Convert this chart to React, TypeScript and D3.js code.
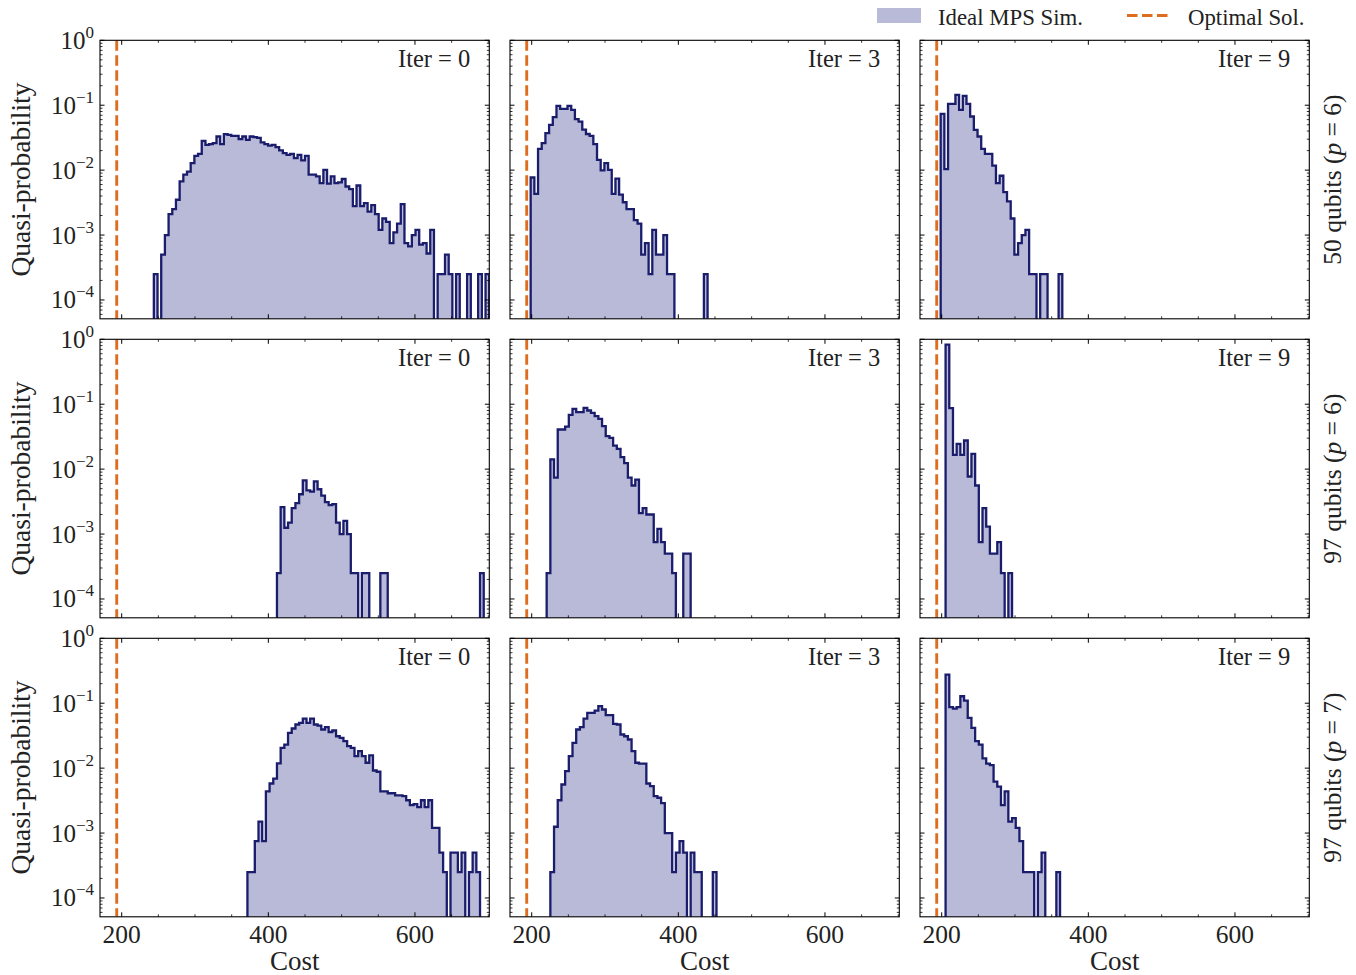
import React from 'react';
import * as d3 from 'd3';

// axis ranges shared by every panel
const costDomain: [number, number] = [170.4, 701.4];
const probDomain: [number, number] = [Math.pow(10, -4.29), 1];
const optimalCost = 193.2;

const iterLabels = ['Iter = 0', 'Iter = 3', 'Iter = 9'];
const rowQubits = ['50', '97', '97'];
const rowDepth = ['6', '6', '7'];
const xTicksMajor = [200, 400, 600];
const xTicksMinor = [250, 300, 350, 450, 500, 550, 650, 700];
const yTicksMajor = [1, 1e-1, 1e-2, 1e-3, 1e-4];
const yTickExp = ['0', '\u22121', '\u22122', '\u22123', '\u22124'];

// histogram bin grid of each row (left edge of bin 0, bin width)
const rowBinStart = [198.6, 205.3, 205.3];
const rowBinWidth = [5.027, 5.036, 5.036];

// 50 qubits (p = 6)
const q50p6Iter0First = 9;
const q50p6Iter0 = [
  2.5e-4, 0, 5e-4, 1e-3, 2.1e-3, 2.5e-3, 3.5e-3, 6.7e-3, 8.5e-3, 9.5e-3,
  1.28e-2, 1.66e-2, 1.78e-2, 2.83e-2, 2.45e-2, 2.51e-2, 2.6e-2, 3.3e-2, 2.51e-2, 3.58e-2,
  3.5e-2, 3.37e-2, 3.37e-2, 3.0e-2, 3.3e-2, 2.93e-2, 3.3e-2, 3.22e-2, 3.14e-2, 2.67e-2,
  2.51e-2, 2.39e-2, 2.45e-2, 2.26e-2, 2.01e-2, 1.83e-2, 1.72e-2, 1.78e-2, 1.53e-2, 1.72e-2,
  1.41e-2, 1.66e-2, 8.5e-3, 8.5e-3, 8.0e-3, 6.3e-3, 1.01e-2, 6.2e-3, 8.0e-3, 6.3e-3,
  6.5e-3, 7.3e-3, 5.6e-3, 5.1e-3, 2.8e-3, 5.8e-3, 2.8e-3, 3.1e-3, 2.3e-3, 2.9e-3,
  2.1e-3, 1.2e-3, 1.8e-3, 1.6e-3, 7.5e-4, 1.1e-3, 1.5e-3, 3.0e-3, 7.5e-4, 6.7e-4,
  1.0e-3, 1.2e-3, 7.1e-4, 7.5e-4, 5.2e-4, 1.2e-3, 0, 2.5e-4, 2.5e-4, 5e-4,
  2.5e-4, 0, 2.5e-4, 0, 0, 2.5e-4, 0, 0, 2.5e-4, 0, 2.5e-4,
];
const q50p6Iter3First = 0;
const q50p6Iter3 = [
  7.7e-3, 4.3e-3, 2.13e-2, 2.6e-2, 3.71e-2, 4.98e-2, 6.54e-2, 9.77e-2, 8.8e-2, 8.8e-2,
  9.8e-2, 8.5e-2, 6.1e-2, 5.6e-2, 4.2e-2, 3.6e-2, 3.37e-2, 2.51e-2, 1.44e-2, 9.9e-3,
  1.28e-2, 1.01e-2, 4.3e-3, 7.4e-3, 4.2e-3, 3.2e-3, 2.5e-3, 2.5e-3, 1.7e-3, 1.5e-3,
  5e-4, 7.5e-4, 2.5e-4, 1.2e-3, 5e-4, 5e-4, 1e-3, 2.5e-4, 2.5e-4,
  0, 0, 0, 0, 0, 0, 0, 0, 2.5e-4,
];
const q50p6Iter9First = 0;
const q50p6Iter9 = [
  7.36e-2, 1.04e-2, 0.105, 0.105, 0.144, 8.48e-2, 0.139, 0.105, 6.7e-2, 4.17e-2,
  3.3e-2, 2.13e-2, 1.78e-2, 1.78e-2, 1.17e-2, 6.3e-3, 8.2e-3, 4.6e-3, 3.3e-3, 1.8e-3,
  5e-4, 7.5e-4, 1e-3, 1.2e-3, 2.5e-4, 2.5e-4, 0, 2.5e-4, 2.5e-4, 0, 0, 0, 2.5e-4,
];

// 97 qubits (p = 6)
const q97p6Iter0First = 41;
const q97p6Iter0 = [
  2.5e-4, 2.6e-3, 1.25e-3, 1.5e-3, 2.5e-3, 3.0e-3, 4.1e-3, 6.7e-3, 4.7e-3, 4.5e-3,
  6.5e-3, 4.9e-3, 3.9e-3, 3.1e-3, 2.8e-3, 2.9e-3, 1.5e-3, 1.0e-3, 1.6e-3, 1.0e-3,
  2.5e-4, 2.5e-4, 0, 2.5e-4, 2.5e-4, 0, 0, 0, 2.5e-4, 2.5e-4,
  0, 0, 0, 0, 0, 0, 0, 0, 0, 0, 0, 0, 0, 0, 0, 0, 0, 0, 0, 0, 0, 0, 0, 0, 0,
  2.5e-4,
];
const q97p6Iter3First = 3;
const q97p6Iter3 = [
  2.5e-4, 1.41e-2, 7.4e-3, 4.08e-2, 4.08e-2, 4.53e-2, 6.86e-2, 8.48e-2, 7.53e-2, 7.53e-2,
  8.79e-2, 8.0e-2, 7.36e-2, 6.54e-2, 5.95e-2, 4.59e-2, 3.22e-2, 3.03e-2, 2.31e-2, 2.05e-2,
  1.53e-2, 1.24e-2, 7.4e-3, 5.6e-3, 6.9e-3, 2.1e-3, 2.5e-3, 2.0e-3, 2.0e-3, 7.5e-4,
  1.2e-3, 7.5e-4, 5e-4, 5e-4, 2.5e-4, 0, 0, 5e-4, 5e-4,
];
const q97p6Iter9First = 0;
const q97p6Iter9 = [
  0.828, 8.68e-2, 1.66e-2, 2.45e-2, 1.66e-2, 2.76e-2, 7.7e-3, 1.72e-2, 5.6e-3, 7.5e-4,
  2.5e-3, 1.3e-3, 5e-4, 5e-4, 7.5e-4, 2.5e-4, 0, 2.5e-4,
];

// 97 qubits (p = 7)
const q97p7Iter0First = 33;
const q97p7Iter0 = [
  2.5e-4, 2.5e-4, 7.5e-4, 1.5e-3, 7.5e-4, 4.4e-3, 5.8e-3, 6.9e-3, 1.18e-2, 2.05e-2,
  2.31e-2, 3.5e-2, 4.08e-2, 4.7e-2, 4.98e-2, 5.81e-2, 4.98e-2, 5.81e-2, 4.7e-2, 4.53e-2,
  3.94e-2, 4.27e-2, 3.6e-2, 3.8e-2, 3.1e-2, 2.93e-2, 2.6e-2, 2.18e-2, 2.05e-2, 1.53e-2,
  1.83e-2, 1.53e-2, 1.21e-2, 1.57e-2, 9.2e-3, 8.8e-3, 4.4e-3, 4.4e-3, 4.1e-3, 4.1e-3,
  3.8e-3, 3.8e-3, 3.7e-3, 3.2e-3, 2.7e-3, 2.8e-3, 2.5e-3, 3.2e-3, 2.5e-3, 3.2e-3,
  1.2e-3, 1.2e-3, 5e-4, 2.5e-4, 0, 5e-4, 5e-4, 2.5e-4, 5e-4, 0, 2.5e-4, 5e-4, 2.5e-4,
];
const q97p7Iter3First = 4;
const q97p7Iter3 = [
  2.5e-4, 1.25e-3, 3.2e-3, 5.6e-3, 9.0e-3, 1.53e-2, 2.45e-2, 3.94e-2, 4.27e-2, 5.81e-2,
  7.1e-2, 7.1e-2, 7.7e-2, 9.0e-2, 8.0e-2, 6.54e-2, 6.54e-2, 4.81e-2, 4.7e-2, 3.3e-2,
  3.1e-2, 2.76e-2, 1.83e-2, 1.21e-2, 1.17e-2, 1.17e-2, 5.8e-3, 5.3e-3, 3.7e-3, 3.5e-3,
  2.9e-3, 1e-3, 1e-3, 2.5e-4, 5e-4, 7.5e-4, 5e-4, 0, 5e-4, 2.5e-4, 2.5e-4, 0, 0, 0, 2.5e-4,
];
const q97p7Iter9First = 0;
const q97p7Iter9 = [
  0.276, 8.68e-2, 8.28e-2, 8.68e-2, 0.128, 0.11, 5.95e-2, 4.17e-2, 2.6e-2, 2.31e-2,
  1.41e-2, 1.17e-2, 1.11e-2, 6.2e-3, 5.2e-3, 2.7e-3, 4.4e-3, 1.5e-3, 1.7e-3, 1.2e-3,
  7.5e-4, 2.5e-4, 2.5e-4, 2.5e-4, 0, 2.5e-4, 5e-4, 0, 0, 0, 2.5e-4,
];

const grid = [
  [
    { first: q50p6Iter0First, values: q50p6Iter0 },
    { first: q50p6Iter3First, values: q50p6Iter3 },
    { first: q50p6Iter9First, values: q50p6Iter9 },
  ],
  [
    { first: q97p6Iter0First, values: q97p6Iter0 },
    { first: q97p6Iter3First, values: q97p6Iter3 },
    { first: q97p6Iter9First, values: q97p6Iter9 },
  ],
  [
    { first: q97p7Iter0First, values: q97p7Iter0 },
    { first: q97p7Iter3First, values: q97p7Iter3 },
    { first: q97p7Iter9First, values: q97p7Iter9 },
  ],
];

const FONT = '"Liberation Serif", "Times New Roman", serif';
const FILL = '#b9bad7';
const EDGE = '#1a1c6c';
const ORANGE = '#df6d1f';

const W = 1356;
const H = 975;
const PW = 389.3;
const PH = 278.5;
const COL_LEFT = [100, 510, 920];
const ROW_TOP = [40.3, 339.3, 638.3];
const MAJOR = 4.5;
const MINOR = 2.5;

const x = d3.scaleLinear().domain(costDomain).range([0, PW]);
const y = d3.scaleLog().domain(probDomain).range([PH, 0]);

const yMinor: number[] = [];
for (let e = -5; e <= -1; e++) {
  for (let m = 2; m <= 9; m++) {
    const v = m * Math.pow(10, e);
    if (v >= probDomain[0] && v <= probDomain[1]) yMinor.push(v);
  }
}

function histPoints(row: number, first: number, values: number[]): [number, number][] {
  const floor = PH + 6;
  const edge = (i: number) => x(rowBinStart[row] + i * rowBinWidth[row]);
  const pts: [number, number][] = [[edge(first), floor]];
  values.forEach((v, i) => pts.push([edge(first + i), v > 0 ? y(v) : floor]));
  const last = values[values.length - 1];
  pts.push([edge(first + values.length), last > 0 ? y(last) : floor]);
  pts.push([edge(first + values.length), floor]);
  return pts;
}

const stepLine = d3.line().curve(d3.curveStepAfter);

function Panel({ row, col }: { row: number; col: number }) {
  const h = grid[row][col];
  const pts = histPoints(row, h.first, h.values);
  const d = stepLine(pts) || '';
  const clipId = `clip-${row}-${col}`;
  const xo = x(optimalCost);
  return (
    <g transform={`translate(${COL_LEFT[col]},${ROW_TOP[row]})`}>
      <defs>
        <clipPath id={clipId}>
          <rect x={0} y={0} width={PW} height={PH} />
        </clipPath>
      </defs>
      <g clipPath={`url(#${clipId})`}>
        <path d={d + 'Z'} fill={FILL} stroke="none" />
        <path d={d} fill="none" stroke={EDGE} strokeWidth={2.3} strokeLinejoin="miter" />
        <line x1={xo} x2={xo} y1={0} y2={PH} stroke={ORANGE} strokeWidth={2.9} strokeDasharray="10.5 4.5" />
      </g>
      {xTicksMajor.map((t) => (
        <g key={`xM${t}`} stroke="#000" strokeWidth={1}>
          <line x1={x(t)} x2={x(t)} y1={PH} y2={PH - MAJOR} />
          <line x1={x(t)} x2={x(t)} y1={0} y2={MAJOR} />
        </g>
      ))}
      {xTicksMinor.filter((t) => x(t) < PW - 0.5).map((t) => (
        <g key={`xm${t}`} stroke="#000" strokeWidth={0.8}>
          <line x1={x(t)} x2={x(t)} y1={PH} y2={PH - MINOR} />
          <line x1={x(t)} x2={x(t)} y1={0} y2={MINOR} />
        </g>
      ))}
      {yTicksMajor.map((t) => (
        <g key={`yM${t}`} stroke="#000" strokeWidth={1}>
          <line x1={0} x2={MAJOR} y1={y(t)} y2={y(t)} />
          <line x1={PW} x2={PW - MAJOR} y1={y(t)} y2={y(t)} />
        </g>
      ))}
      {yMinor.map((t) => (
        <g key={`ym${t}`} stroke="#000" strokeWidth={0.8}>
          <line x1={0} x2={MINOR} y1={y(t)} y2={y(t)} />
          <line x1={PW} x2={PW - MINOR} y1={y(t)} y2={y(t)} />
        </g>
      ))}
      <rect x={0} y={0} width={PW} height={PH} fill="none" stroke="#000" strokeWidth={1.1} />
      <text x={PW - 19} y={27} textAnchor="end" fontSize={24.5} fill="#222">
        {iterLabels[col]}
      </text>
      {col === 0 &&
        yTicksMajor.map((t, i) => (
          <text key={`yl${t}`} x={-6} y={y(t) + 8.5} textAnchor="end" fontSize={25} fill="#222">
            10
            <tspan dy={-11} fontSize={17}>{yTickExp[i]}</tspan>
          </text>
        ))}
      {row === 2 &&
        xTicksMajor.map((t) => (
          <text key={`xl${t}`} x={x(t)} y={PH + 26.5} textAnchor="middle" fontSize={25.5} fill="#222">
            {t}
          </text>
        ))}
      {row === 2 && (
        <text x={PW / 2} y={PH + 53.5} textAnchor="middle" fontSize={27} fill="#222">
          Cost
        </text>
      )}
      {col === 0 && (
        <text
          transform={`translate(${-70},${PH / 2}) rotate(-90)`}
          textAnchor="middle"
          fontSize={27.5}
          fill="#222"
        >
          Quasi-probability
        </text>
      )}
      {col === 2 && (
        <text
          transform={`translate(${PW + 32},${PH / 2}) rotate(-90)`}
          textAnchor="middle"
          fontSize={25.5}
          fill="#222"
        >
          {rowQubits[row]} qubits (<tspan fontStyle="italic">p</tspan> = {rowDepth[row]})
        </text>
      )}
    </g>
  );
}

export default function App() {
  return (
    <div>
      <style>{'body{margin:0;}'}</style>
      <svg width={W} height={H} viewBox={`0 0 ${W} ${H}`} fontFamily={FONT} style={{ display: 'block', background: '#fff' }}>
        <rect x={0} y={0} width={W} height={H} fill="#fff" />
        {[0, 1, 2].map((r) => [0, 1, 2].map((c) => <Panel key={`${r}-${c}`} row={r} col={c} />))}
        <g>
          <rect x={877} y={8} width={44} height={15} fill={FILL} />
          <text x={938} y={24.5} fontSize={22.8} fill="#222">Ideal MPS Sim.</text>
          <line x1={1127} x2={1171} y1={15.5} y2={15.5} stroke={ORANGE} strokeWidth={2.9} strokeDasharray="10.5 4.5" />
          <text x={1188} y={24.5} fontSize={22.8} fill="#222">Optimal Sol.</text>
        </g>
      </svg>
    </div>
  );
}
